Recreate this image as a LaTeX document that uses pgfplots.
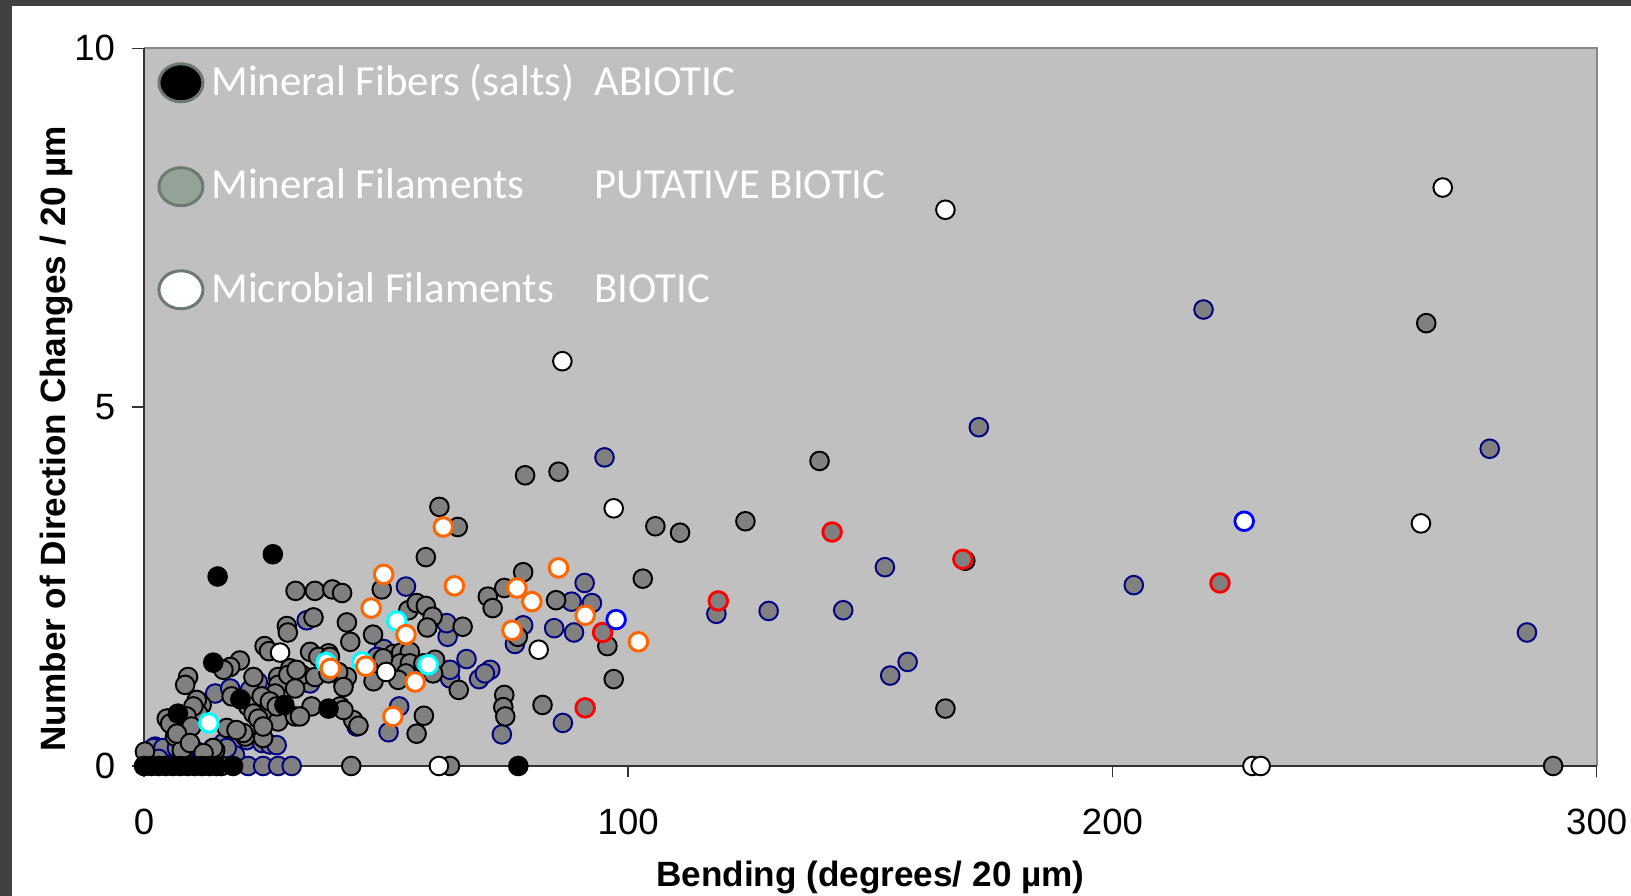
\documentclass[border=0pt]{standalone}
\usepackage{pgfplots}
\pgfplotsset{compat=1.18}
\usepackage{fontspec}
\setmainfont{Liberation Sans}
\newfontfamily\carlito{Carlito}
\definecolor{bggray}{HTML}{C0C0C0}
\definecolor{framegray}{HTML}{404040}
\definecolor{axisdark}{HTML}{333333}
\definecolor{topgray}{HTML}{888888}
\definecolor{ptgray}{HTML}{808080}
\definecolor{navy}{HTML}{000080}
\definecolor{ptorange}{HTML}{FF6600}
\definecolor{ptcyan}{HTML}{00FFFF}
\definecolor{ptblue}{HTML}{0000FF}
\definecolor{ptred}{HTML}{FF0000}
\definecolor{legfill}{HTML}{93A398}
\definecolor{legedge}{HTML}{6C7A70}
\begin{document}
\begin{tikzpicture}
\useasboundingbox (0,0) rectangle (163.1mm,89.6mm);
\fill[white] (0,0) rectangle (163.1mm,89.6mm);
\fill[framegray] (0,0) rectangle (1.22mm,89.6mm);
\fill[framegray] (0,88.95mm) rectangle (163.1mm,89.6mm);
\begin{axis}[
  at={(14.4mm,13.0mm)}, anchor=south west,
  scale only axis, width=145.27mm, height=71.77mm,
  xmin=0, xmax=300, ymin=0, ymax=10,
  xtick={0,100,200,300}, ytick={0,5,10},
  clip=false,
  axis background/.style={fill=bggray},
  axis line style={draw=none},
  xtick pos=bottom, ytick pos=left,
  tick align=outside,
  major tick length=1.15mm,
  tick style={axisdark, line width=0.15mm},
  /pgf/number format/assume math mode=true,
  ticklabel style={font=\fontsize{10.4}{12}\selectfont},
  xticklabel style={yshift=-1.9mm},
  yticklabel style={xshift=-0.5mm},
  xlabel={Bending (degrees/ 20 µm)},
  ylabel={Number of Direction Changes / 20 µm},
  label style={font=\bfseries\fontsize{10}{12}\selectfont},
  xlabel style={at={(axis description cs:0.5,-0.156)}, anchor=center},
  ylabel style={at={(axis description cs:-0.06,0.456)}, anchor=center, rotate=0},
  legend style={draw=none, fill=none, at={(rel axis cs:0.0015,0.998)}, anchor=north west,
    text=white, font=\carlito\fontsize{12.2}{14}\selectfont, row sep=5.4mm,
    legend cell align=left},
  legend image code/.code={\draw[#1] (2.2mm,0) ellipse [x radius=2.2mm, y radius=1.9mm];},
  every axis plot/.append style={only marks, mark=*, mark size=2.65pt},
]
\draw[topgray, line width=0.2mm] (rel axis cs:0,1) -- (rel axis cs:1,1) -- (rel axis cs:1,0);
\draw[axisdark, line width=0.15mm] (rel axis cs:0,1) -- (rel axis cs:0,0);
\draw[axisdark, line width=0.2mm] (rel axis cs:0,0) -- (rel axis cs:1,0);
% navy edge, gray fill
\addplot[forget plot, mark options={fill=ptgray, draw=navy, line width=0.55pt}] table {
x y
218.8 6.36
172.4 4.72
277.9 4.42
95.1 4.30
153.0 2.77
204.4 2.52
91.0 2.55
118.2 2.12
129.0 2.16
144.4 2.17
285.6 1.86
157.7 1.45
154.1 1.26
86.5 0.60
88.3 2.29
92.5 2.27
84.7 1.92
88.8 1.86
78.3 1.96
76.6 1.70
54.1 2.50
62.7 1.80
62.5 1.99
66.6 1.49
71.5 1.34
69.2 1.21
70.4 1.29
63.2 1.22
63.2 1.34
49.5 1.63
48.1 1.52
41.2 1.14
52.7 0.83
50.5 0.47
73.9 0.44
43.9 0.55
33.6 2.03
14.7 1.01
17.8 1.08
23.5 1.17
21.9 1.06
34.3 1.15
21.2 0.36
24.4 0.32
18.1 0.27
26.0 0.30
27.4 0.29
16.4 0.32
2.3 0.27
5.0 0.22
10.5 0.22
16.0 0.13
18.8 0.15
1.9 0.25
4.0 0.25
6.8 0.25
8.5 0.25
14.3 0.25
17.1 0.25
3.0 0.10
8.0 0.10
12.0 0.12
21.5 0
24.6 0
27.7 0
30.5 0
};
% gray fill, black edge
\addplot[forget plot, mark options={fill=ptgray, draw=black, line width=0.55pt}] table {
x y
264.8 6.17
139.5 4.25
85.6 4.10
78.7 4.05
61.0 3.61
124.2 3.41
105.6 3.34
110.7 3.25
64.8 3.33
169.6 2.86
103.0 2.61
78.3 2.70
165.5 0.80
291.0 0
63.2 0
42.8 0
16.0 0
82.3 0.85
97.0 1.21
85.1 2.31
95.7 1.67
77.2 1.80
74.4 0.99
74.2 0.82
74.6 0.69
58.2 2.91
49.1 2.46
71.0 2.36
72.0 2.20
74.4 2.48
31.3 2.44
35.3 2.44
38.9 2.46
40.9 2.41
54.6 2.17
56.3 2.27
58.2 2.23
59.6 2.08
58.5 1.93
41.9 2.00
42.6 1.73
47.3 1.83
65.8 1.94
65.0 1.06
60.1 1.48
51.5 1.56
53.1 1.58
54.9 1.59
52.9 1.43
54.9 1.43
54.1 1.29
52.5 1.20
49.2 1.48
47.4 1.18
57.7 1.43
59.7 1.29
41.9 1.24
40.1 1.31
38.1 1.57
40.5 0.83
43.2 0.64
44.3 0.56
57.8 0.70
56.3 0.45
49.4 1.50
35.0 2.07
29.5 1.95
29.7 1.86
24.9 1.67
25.8 1.60
34.3 1.59
36.0 1.52
38.4 1.52
19.8 1.47
17.8 1.38
16.4 1.34
22.6 1.24
27.7 1.24
30.2 1.36
32.6 1.27
27.7 1.13
29.8 1.27
31.5 1.34
35.3 1.24
38.1 1.29
41.2 1.10
9.1 1.24
8.5 1.13
18.1 0.97
21.5 0.83
27.1 1.01
31.2 1.08
11.9 0.85
11.2 0.73
10.9 0.92
10.2 0.83
5.0 0.66
6.0 0.62
25.7 0.76
27.7 0.62
31.2 0.69
34.6 0.83
32.2 0.69
41.2 0.78
17.1 0.53
20.9 0.41
24.6 0.39
6.4 0.41
9.1 0.53
7.8 0.22
0.2 0.20
14.7 0.22
24.3 0.97
26.0 0.90
27.4 0.83
22.6 0.73
23.6 0.66
24.6 0.55
20.5 0.46
19.1 0.50
8.8 0.69
9.8 0.55
4.7 0.66
5.4 0.59
6.8 0.45
9.5 0.32
14.3 0.25
12.3 0.18
};
% black: mineral fibers
\addplot[forget plot, mark options={fill=black, draw=black, line width=0.55pt}] table {
x y
0 0
1.5 0
3 0
4.5 0
6 0
7.5 0
9 0
10.5 0
12 0
13.5 0
15 0
18.4 0
77.3 0
26.6 2.95
15.2 2.64
14.3 1.44
19.9 0.93
29.0 0.85
7.0 0.73
38.1 0.80
};
% white, black edge
\addplot[forget plot, mark options={fill=white, draw=black, line width=0.55pt}] table {
x y
165.5 7.75
268.2 8.06
86.4 5.64
97.0 3.59
263.7 3.38
81.5 1.62
50.0 1.31
28.1 1.58
60.9 0
228.9 0
230.6 0
};
% gray fill, red edge
\addplot[forget plot, mark options={fill=ptgray, draw=ptred, line width=0.8pt}] table {
x y
142.1 3.26
169.1 2.88
222.2 2.55
118.6 2.30
94.7 1.86
91.1 0.81
};
% white, cyan edge
\addplot[forget plot, mark options={fill=white, draw=ptcyan, line width=0.85pt}] table {
x y
52.2 2.02
58.7 1.41
45.0 1.45
37.6 1.44
13.4 0.60
};
% white, orange edge
\addplot[forget plot, mark options={fill=white, draw=ptorange, line width=0.85pt}] table {
x y
61.8 3.33
85.6 2.76
49.5 2.67
64.1 2.51
77.0 2.48
80.1 2.29
91.1 2.10
102.1 1.73
76.0 1.89
46.9 2.20
54.1 1.83
56.0 1.17
45.8 1.39
38.5 1.36
51.4 0.69
};
% white, blue edge
\addplot[forget plot, mark options={fill=white, draw=ptblue, line width=0.8pt}] table {
x y
227.2 3.41
97.5 2.04
};
\addlegendimage{fill=black, draw=legedge, line width=0.3mm}
\addlegendentry{\makebox[38.3mm][l]{Mineral Fibers (salts)}ABIOTIC}
\addlegendimage{fill=legfill, draw=legedge, line width=0.3mm}
\addlegendentry{\makebox[38.3mm][l]{Mineral Filaments}PUTATIVE BIOTIC}
\addlegendimage{fill=white, draw=legedge, line width=0.3mm}
\addlegendentry{\makebox[38.3mm][l]{Microbial Filaments}BIOTIC}
\end{axis}
\end{tikzpicture}
\end{document}
